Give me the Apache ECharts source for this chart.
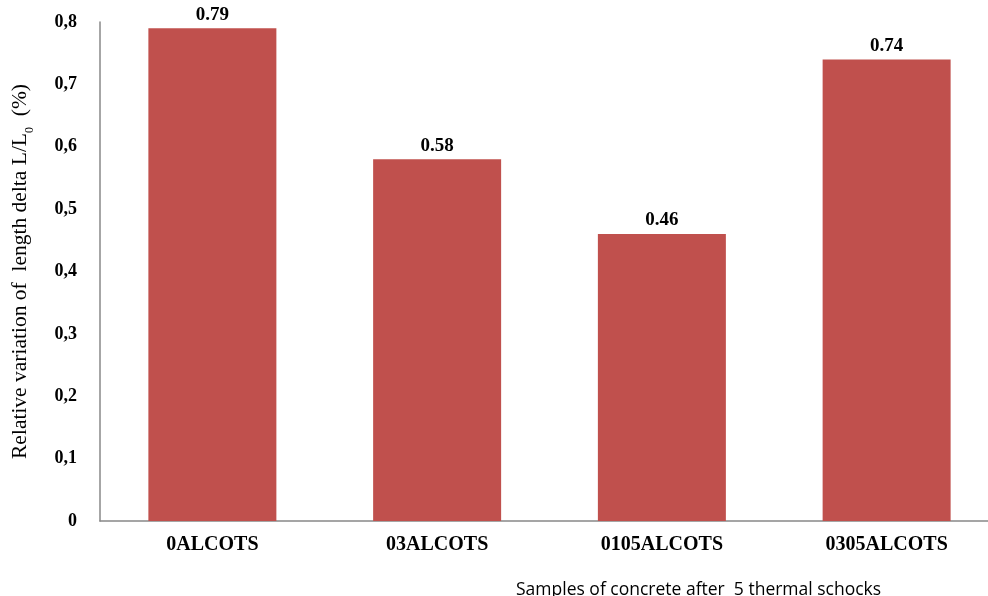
<!DOCTYPE html>
<html>
<head>
<meta charset="utf-8">
<script src="https://cdn.jsdelivr.net/npm/echarts@6/dist/echarts.min.js"></script>
<style>html,body{margin:0;padding:0;background:#fff;}#c{width:988px;height:596px;}</style>
</head>
<body>
<div id="c"></div>
<script>
var categories = ['0ALCOTS', '03ALCOTS', '0105ALCOTS', '0305ALCOTS'];
var values = [0.79, 0.58, 0.46, 0.74];
var yTicks = [0, 0.1, 0.2, 0.3, 0.4, 0.5, 0.6, 0.7, 0.8];

var chart = echarts.init(document.getElementById('c'));
var serif = '"Liberation Serif", "Times New Roman", serif';
chart.setOption({
  animation: false,
  title: {
    text: 'Samples of concrete after  5 thermal schocks',
    left: 511, top: 576,
    textStyle: { fontFamily: '"Open Sans", "Liberation Sans", sans-serif', fontSize: 17.5, fontWeight: 'normal', color: '#000' }
  },
  grid: { left: 100, top: 22, width: 899, bottom: 75, containLabel: false, outerBoundsMode: 'none' },
  xAxis: {
    type: 'category',
    data: categories,
    axisLine: { lineStyle: { color: '#888', width: 1.5 } },
    axisTick: { show: false },
    axisLabel: { fontFamily: serif, fontWeight: 'bold', fontSize: 20, color: '#000', margin: 14 }
  },
  yAxis: {
    type: 'value',
    min: 0, max: 0.8, interval: 0.1,
    name: 'Relative variation of  length delta L/L{sub|0}  (%)',
    nameLocation: 'middle',
    nameGap: 69,
    nameTextStyle: {
      fontFamily: serif, fontSize: 21.5, color: '#000',
      rich: { sub: { fontFamily: serif, fontSize: 12, color: '#000', verticalAlign: 'bottom', padding: [0,0,-5,0] } }
    },
    axisLine: { show: true, lineStyle: { color: '#888', width: 1.5 } },
    axisTick: { show: false },
    splitLine: { show: false },
    axisLabel: {
      fontFamily: serif, fontWeight: 'bold', fontSize: 18, color: '#000', margin: 23,
      formatter: function (v) { return v === 0 ? '0' : v.toFixed(1).replace('.', ','); }
    }
  },
  series: [{
    type: 'bar',
    data: values,
    barWidth: 128,
    itemStyle: { color: '#C0504D' },
    label: {
      show: true, position: 'top', distance: 4,
      fontFamily: serif, fontWeight: 'bold', fontSize: 19, color: '#000',
      formatter: function (p) { return p.value.toFixed(2); }
    }
  }]
});
</script>
</body>
</html>
